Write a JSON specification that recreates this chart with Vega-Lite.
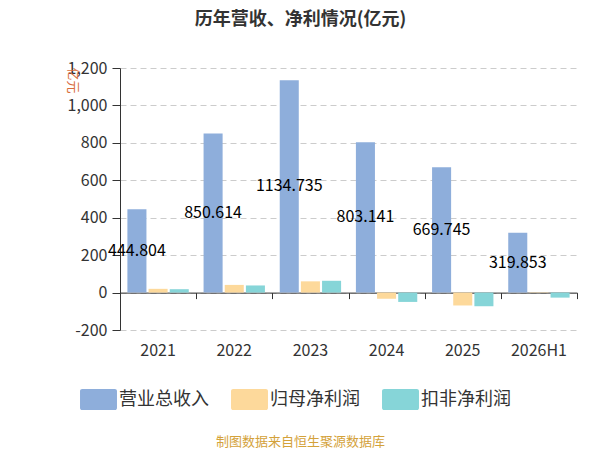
{
  "$schema": "https://vega.github.io/schema/vega-lite/v6.json",
  "autosize": "none",
  "width": 457,
  "height": 262,
  "padding": {"left": 120, "top": 68, "right": 23, "bottom": 120},
  "background": "white",
  "title": {
    "text": "历年营收、净利情况(亿元)",
    "fontSize": 18,
    "fontWeight": "bold",
    "color": "#333",
    "font": "Noto Sans CJK SC",
    "anchor": "middle",
    "dx": -48,
    "offset": 31
  },
  "data": {
    "values": [
      {"year": "2021", "series": "营业总收入", "value": 444.804},
      {"year": "2021", "series": "归母净利润", "value": 20},
      {"year": "2021", "series": "扣非净利润", "value": 18},
      {"year": "2022", "series": "营业总收入", "value": 850.614},
      {"year": "2022", "series": "归母净利润", "value": 41},
      {"year": "2022", "series": "扣非净利润", "value": 38},
      {"year": "2023", "series": "营业总收入", "value": 1134.735},
      {"year": "2023", "series": "归母净利润", "value": 60},
      {"year": "2023", "series": "扣非净利润", "value": 63},
      {"year": "2024", "series": "营业总收入", "value": 803.141},
      {"year": "2024", "series": "归母净利润", "value": -33},
      {"year": "2024", "series": "扣非净利润", "value": -50},
      {"year": "2025", "series": "营业总收入", "value": 669.745},
      {"year": "2025", "series": "归母净利润", "value": -69},
      {"year": "2025", "series": "扣非净利润", "value": -73},
      {"year": "2026H1", "series": "营业总收入", "value": 319.853},
      {"year": "2026H1", "series": "归母净利润", "value": -2},
      {"year": "2026H1", "series": "扣非净利润", "value": -27}
    ]
  },
  "layer": [
    {
      "mark": {"type": "bar"},
      "encoding": {
        "x": {
          "field": "year",
          "type": "nominal",
          "sort": null,
          "scale": {"paddingInner": 0, "paddingOuter": 0},
          "axis": {
            "orient": "bottom",
            "labelAngle": 0,
            "labelFontSize": 16,
            "labelColor": "#333",
            "labelPadding": 12,
            "labelFont": "Noto Sans CJK SC",
            "domain": false,
            "ticks": false,
            "grid": false,
            "title": "制图数据来自恒生聚源数据库",
            "titleFont": "Noto Sans CJK SC",
            "titleFontSize": 13,
            "titleFontWeight": "normal",
            "titleColor": "#d4a23a",
            "titleX": 180,
            "titleY": 111,
            "titleAlign": "center",
            "titleBaseline": "middle"
          }
        },
        "xOffset": {
          "field": "series",
          "type": "nominal",
          "scale": {
            "domain": ["营业总收入", "归母净利润", "扣非净利润"],
            "paddingInner": 0.1,
            "paddingOuter": 0.35
          }
        },
        "y": {
          "field": "value",
          "type": "quantitative",
          "scale": {"domain": [-200, 1200], "nice": false, "zero": false},
          "axis": {
            "values": [-200, 0, 200, 400, 600, 800, 1000, 1200],
            "format": ",.0f",
            "labelExpr": "replace(datum.label, '−', '-')",
            "labelFontSize": 16,
            "labelColor": "#333",
            "labelFont": "Noto Sans CJK SC",
            "labelPadding": 5,
            "domain": true,
            "domainColor": "#333",
            "ticks": true,
            "tickSize": 8,
            "tickColor": "#333",
            "grid": true,
            "gridColor": "#cccccc",
            "gridDash": [6, 4],
            "title": "亿元",
            "titleFont": "Noto Sans CJK SC",
            "titleFontSize": 13,
            "titleFontWeight": "normal",
            "titleColor": "#d86c3b",
            "titleAngle": 90,
            "titleX": -48,
            "titleY": 12,
            "titleAlign": "center",
            "titleBaseline": "middle"
          }
        },
        "color": {
          "field": "series",
          "type": "nominal",
          "scale": {
            "domain": ["营业总收入", "归母净利润", "扣非净利润"],
            "range": ["#8eaedb", "#fdd99b", "#86d5d8"]
          },
          "legend": {
            "orient": "none",
            "direction": "horizontal",
            "legendX": -32,
            "legendY": 321,
            "title": null,
            "symbolType": "M-1.56,-1 H1.56 A0.2,0.2 0 0 1 1.76,-0.8 V0.8 A0.2,0.2 0 0 1 1.56,1 H-1.56 A0.2,0.2 0 0 1 -1.76,0.8 V-0.8 A0.2,0.2 0 0 1 -1.56,-1 Z",
            "symbolSize": 441,
            "symbolStrokeWidth": 0,
            "symbolOpacity": 1,
            "labelFontSize": 18,
            "labelFont": "Noto Sans CJK SC",
            "labelColor": "#333",
            "labelOffset": 10,
            "columnPadding": 22
          }
        }
      }
    },
    {
      "transform": [{"filter": "datum.series == '营业总收入'"}],
      "mark": {
        "type": "text",
        "fontSize": 16,
        "font": "Noto Sans CJK SC",
        "color": "#000",
        "align": "center",
        "baseline": "middle"
      },
      "encoding": {
        "x": {
          "field": "year",
          "type": "nominal",
          "sort": null,
          "axis": {
            "orient": "bottom",
            "offset": -37.4,
            "labels": false,
            "domain": true,
            "domainColor": "#333",
            "ticks": true,
            "tickBand": "extent",
            "tickSize": 6,
            "tickColor": "#333",
            "grid": false,
            "title": null
          }
        },
        "xOffset": {"field": "series", "type": "nominal"},
        "y": {
          "field": "value",
          "type": "quantitative",
          "scale": {"domain": [-400, 2400], "nice": false, "zero": false},
          "axis": null
        },
        "text": {"field": "value", "type": "nominal"}
      }
    }
  ],
  "resolve": {
    "scale": {"y": "independent"},
    "axis": {"x": "independent"}
  },
  "config": {
    "view": {"stroke": null},
    "font": "Noto Sans CJK SC"
  }
}
